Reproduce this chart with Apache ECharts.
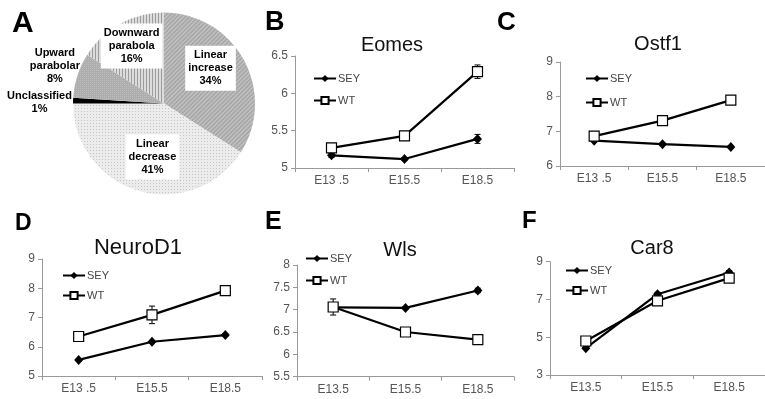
<!DOCTYPE html>
<html><head><meta charset="utf-8">
<script src="https://cdn.jsdelivr.net/npm/echarts@6/dist/echarts.min.js"></script>
<style>html,body{margin:0;padding:0;background:#fff}#c{width:765px;height:399px}</style>
</head><body><div id="c"></div>
<script>
// ---------- DATA ----------
// Panel A (pie): percentages, clockwise from 12 o'clock
const pieNames = ['Linear increase', 'Linear decrease', 'Unclassified', 'Upward parabolar', 'Downward parabola'];
const pieValues = [34, 41, 1, 8, 16];

const stages = ['E13.5', 'E15.5', 'E18.5'];
const stagesSpaced = ['E13 .5', 'E15.5', 'E18.5'];

// Panel B: Eomes
const eomesSEY = [5.17, 5.12, 5.39];
const eomesWT = [5.27, 5.43, 6.29];
const eomesSEYErr = [0.03, 0.02, 0.06];
const eomesWTErr = [0.03, 0.03, 0.09];
const eomesTicks = [5, 5.5, 6, 6.5];

// Panel C: Ostf1
const ostf1SEY = [6.73, 6.63, 6.55];
const ostf1WT = [6.86, 7.31, 7.90];
const ostf1SEYErr = [0.03, 0.03, 0.03];
const ostf1WTErr = [0.05, 0.05, 0.05];
const ostf1Ticks = [6, 7, 8, 9];

// Panel D: NeuroD1
const neurod1SEY = [5.55, 6.17, 6.40];
const neurod1WT = [6.35, 7.09, 7.92];
const neurod1SEYErr = [0.03, 0.04, 0.05];
const neurod1WTErr = [0.05, 0.30, 0.13];
const neurod1Ticks = [5, 6, 7, 8, 9];

// Panel E: Wls
const wlsSEY = [7.05, 7.04, 7.43];
const wlsWT = [7.06, 6.50, 6.33];
const wlsSEYErr = [0.05, 0.03, 0.05];
const wlsWTErr = [0.18, 0.10, 0.03];
const wlsTicks = [5.5, 6, 6.5, 7, 7.5, 8];

// Panel F: Car8
const car8SEY = [4.42, 7.28, 8.43];
const car8WT = [4.80, 6.93, 8.13];
const car8SEYErr = [0.05, 0.10, 0.10];
const car8WTErr = [0.10, 0.20, 0.10];
const car8Ticks = [3, 5, 7, 9];

// ---------- STYLE / LAYOUT ----------
const FONT = "'Liberation Sans', Arial, sans-serif";
const pieColors = ['#a9a9a9', '#ececec', '#000000', '#adadad', '#dcdcdc'];
const pieDecals = [
  { symbol: 'rect', symbolSize: 1, dashArrayX: [1, 0], dashArrayY: [1, 2], rotation: -Math.PI / 4, color: 'rgba(255,255,255,0.35)' },
  { symbol: 'rect', symbolSize: 1, dashArrayX: [1, 2], dashArrayY: [1, 2], color: 'rgba(150,150,150,0.45)' },
  null,
  { symbol: 'rect', symbolSize: 1, dashArrayX: [1, 1], dashArrayY: [1, 1], color: 'rgba(255,255,255,0.2)' },
  { symbol: 'rect', symbolSize: 1, dashArrayX: [1, 0], dashArrayY: [1, 2], rotation: Math.PI / 2, color: 'rgba(140,140,140,0.8)' }
];
const pieBoxed = [true, true, false, false, true];
const pieLabelShift = [[4, -12], [2, 7], [-76, 0], [-63, -23], [-9, -15]];

const panels = [
  { name: 'Eomes', cats: stagesSpaced, sey: eomesSEY, wt: eomesWT, seyErr: eomesSEYErr, wtErr: eomesWTErr, ticks: eomesTicks,
    grid: { left: 295, top: 56, width: 219, height: 112 }, title: [392, 45, 20], legend: [313, 73, 11] },
  { name: 'Ostf1', cats: stagesSpaced, sey: ostf1SEY, wt: ostf1WT, seyErr: ostf1SEYErr, wtErr: ostf1WTErr, ticks: ostf1Ticks,
    grid: { left: 560, top: 62, width: 217.5, height: 104 }, title: [658, 44, 20], legend: [585, 73, 13] },
  { name: 'NeuroD1', cats: stagesSpaced, sey: neurod1SEY, wt: neurod1WT, seyErr: neurod1SEYErr, wtErr: neurod1WTErr, ticks: neurod1Ticks,
    grid: { left: 42, top: 259, width: 220, height: 117 }, title: [138, 248, 22], legend: [62, 270, 9] },
  { name: 'Wls', cats: stages, sey: wlsSEY, wt: wlsWT, seyErr: wlsSEYErr, wtErr: wlsWTErr, ticks: wlsTicks,
    grid: { left: 297, top: 265, width: 217, height: 111.7 }, title: [400, 250, 20], legend: [305, 253, 11] },
  { name: 'Car8', cats: stages, sey: car8SEY, wt: car8WT, seyErr: car8SEYErr, wtErr: car8WTErr, ticks: car8Ticks,
    grid: { left: 550, top: 261.7, width: 223, height: 113.3 }, title: [652, 248, 20], legend: [565, 265, 9] }
];

const letters = [
  ['A', 12, 24, 30], ['B', 265, 23, 27], ['C', 497, 22.5, 26],
  ['D', 15, 224, 23], ['E', 265, 222, 25], ['F', 522, 221, 24]
];

// ---------- BUILD ----------
const grids = [], xAxes = [], yAxes = [], series = [], legends = [], graphics = [];

function errRender(params, api) {
  const x = api.value(0), y = api.value(1), e = api.value(2);
  const t = api.coord([x, y + e]), b = api.coord([x, y - e]);
  const st = { stroke: '#000', lineWidth: 1 };
  return { type: 'group', children: [
    { type: 'line', shape: { x1: t[0], y1: t[1], x2: b[0], y2: b[1] }, style: st },
    { type: 'line', shape: { x1: t[0] - 3, y1: t[1], x2: t[0] + 3, y2: t[1] }, style: st },
    { type: 'line', shape: { x1: b[0] - 3, y1: b[1], x2: b[0] + 3, y2: b[1] }, style: st }
  ] };
}

panels.forEach((p, i) => {
  grids.push(Object.assign({ containLabel: false }, p.grid));
  xAxes.push({
    type: 'category', gridIndex: i, data: p.cats, boundaryGap: true,
    axisLine: { lineStyle: { color: '#999', width: 1 } },
    axisTick: { show: true, length: 4, lineStyle: { color: '#999' } },
    axisLabel: { color: '#555', fontSize: 12, fontFamily: FONT, margin: 7 },
    splitLine: { show: false }
  });
  yAxes.push({
    type: 'value', gridIndex: i, min: p.ticks[0], max: p.ticks[p.ticks.length - 1],
    axisLine: { show: true, lineStyle: { color: '#999', width: 1 } },
    axisTick: { show: true, length: 4, lineStyle: { color: '#999' }, customValues: p.ticks },
    axisLabel: { color: '#555', fontSize: 12, fontFamily: FONT, margin: 7, customValues: p.ticks },
    splitLine: { show: false }
  });
  const errData = [];
  p.sey.forEach((v, k) => errData.push([k, v, p.seyErr[k]]));
  p.wt.forEach((v, k) => errData.push([k, v, p.wtErr[k]]));
  series.push({
    type: 'custom', name: 'err' + i, xAxisIndex: i, yAxisIndex: i, data: errData,
    encode: { x: 0, y: 1 }, renderItem: errRender, z: 1, silent: true
  });
  series.push({
    type: 'line', name: 'SEY', xAxisIndex: i, yAxisIndex: i, data: p.sey,
    symbol: 'diamond', symbolSize: [9, 10], itemStyle: { color: '#000' },
    lineStyle: { color: '#000', width: 2.2 }, z: 3, silent: true
  });
  series.push({
    type: 'line', name: 'WT', xAxisIndex: i, yAxisIndex: i, data: p.wt,
    symbol: 'rect', symbolSize: 10, itemStyle: { color: '#fff', borderColor: '#000', borderWidth: 1.2 },
    lineStyle: { color: '#000', width: 2.2 }, z: 4, silent: true
  });
  legends.push({
    orient: 'vertical', left: p.legend[0], top: p.legend[1], itemGap: p.legend[2],
    itemWidth: 22, itemHeight: 9, padding: 0, selectedMode: false,
    data: ['SEY', 'WT'], textStyle: { fontSize: 11, color: '#444', fontFamily: FONT, padding: [0, 0, 0, -3] }
  });
  graphics.push({
    type: 'text', x: p.title[0], y: p.title[1],
    style: { text: p.name, font: p.title[2] + 'px ' + FONT, fill: '#111',
      align: 'center', verticalAlign: 'middle', textAlign: 'center', textVerticalAlign: 'middle' }
  });
});

letters.forEach(l => {
  graphics.push({
    type: 'text', x: l[1], y: l[2],
    style: { text: l[0], font: 'bold ' + l[3] + 'px ' + FONT, fill: '#000',
      align: 'left', verticalAlign: 'middle', textAlign: 'left', textVerticalAlign: 'middle' }
  });
});

const pieData = pieNames.map((n, k) => {
  const it = { name: n, value: pieValues[k], itemStyle: { color: pieColors[k] } };
  if (pieDecals[k]) it.itemStyle.decal = pieDecals[k];
  if (pieBoxed[k]) it.label = { backgroundColor: '#fff', padding: [3, 3] };
  return it;
});

series.push({
  type: 'pie', center: [164, 103.5], radius: 91, startAngle: 90, clockwise: true,
  data: pieData, silent: true, avoidLabelOverlap: false,
  itemStyle: { borderWidth: 0 },
  label: {
    show: true, position: 'inside', color: '#000', fontSize: 11, fontWeight: 'bold',
    fontFamily: FONT, lineHeight: 13,
    formatter: p => p.name.replace(' ', '\n') + '\n' + p.value + '%'
  },
  labelLine: { show: false },
  labelLayout: p => ({ dx: pieLabelShift[p.dataIndex][0], dy: pieLabelShift[p.dataIndex][1] }),
  emphasis: { disabled: true }
});

const chart = echarts.init(document.getElementById('c'), null, { renderer: 'canvas' });
chart.setOption({
  animation: false,
  backgroundColor: '#fff',
  grid: grids, xAxis: xAxes, yAxis: yAxes,
  legend: legends, series: series, graphic: graphics
});
</script></body></html>
